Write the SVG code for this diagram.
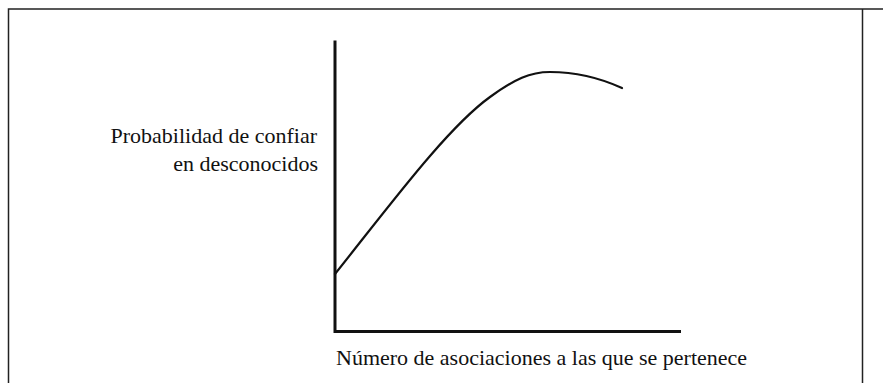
<svg xmlns="http://www.w3.org/2000/svg" width="883" height="383" viewBox="0 0 883 383">
<style>
text{font-family:"Liberation Serif","Tinos","Times New Roman","DejaVu Serif",serif;font-size:22px;fill:#111}
.frame{fill:none;stroke:#222;stroke-width:1.5}
.axis{fill:none;stroke:#111;stroke-width:3}
.curve{fill:none;stroke:#111;stroke-width:2.2;stroke-linecap:round}
</style>
<rect width="883" height="383" fill="#fff"/>
<g id="frame">
<path class="frame" d="M8.5,383 V9 H883"/>
<path class="frame" d="M862.5,9 V383"/>
</g>
<g id="connectors">
<path class="axis" d="M335,40.5 V331.5 H681"/>
<path class="curve" d="M335,274 C390,205 447,128 490,97 C515,79 530,72 550,72 C575,72 600,78 622,88"/>
</g>
<g id="ylabel">
<text font-family="Liberation Serif, serif" x="317" y="143" text-anchor="end">Probabilidad de confiar</text>
<text font-family="Liberation Serif, serif" x="318" y="171" text-anchor="end">en desconocidos</text>
</g>
<g id="xlabel">
<text font-family="Liberation Serif, serif" x="336" y="365">Número de asociaciones a las que se pertenece</text>
</g>
</svg>
